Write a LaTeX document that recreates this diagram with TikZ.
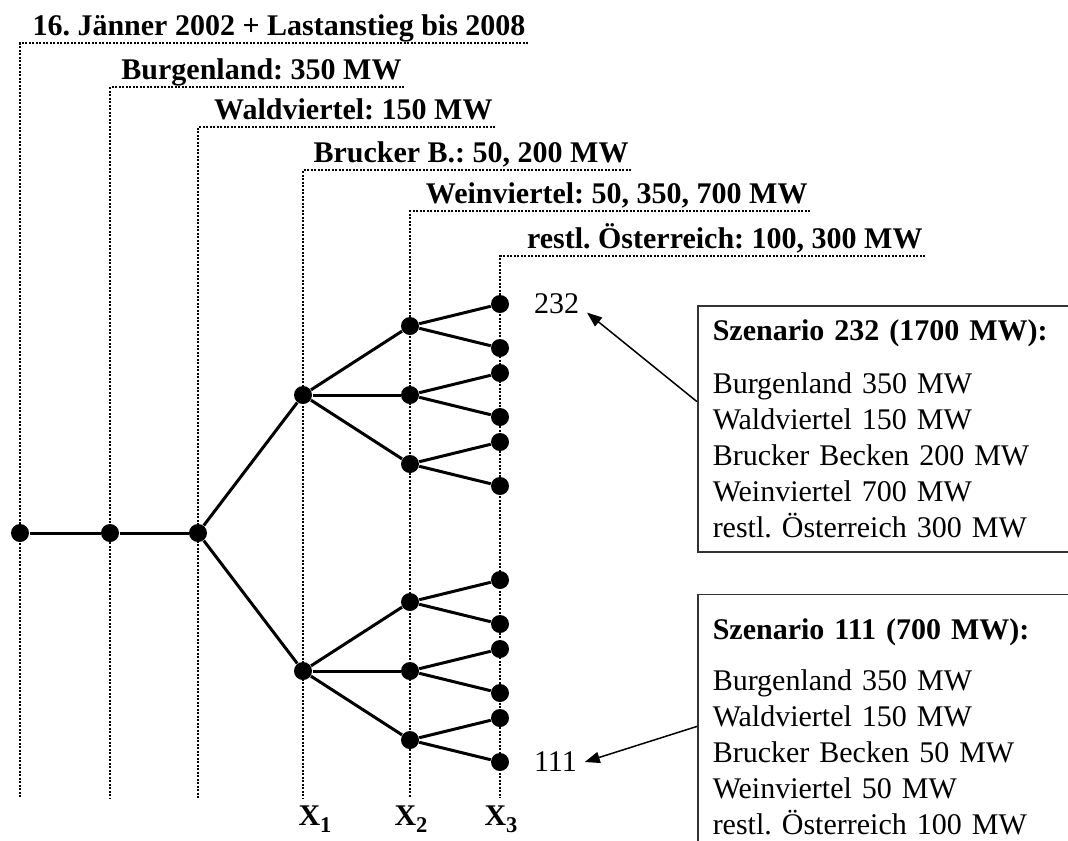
\documentclass[tikz,border=0pt]{standalone}
\usepackage{fontspec}
\setmainfont{Liberation Serif}
\usetikzlibrary{arrows.meta, positioning, calc}
\frenchspacing

\begin{document}
\begin{tikzpicture}[x=0.4pt, y=-0.4pt,
  every node/.style={font=\fontsize{12}{14.4}\selectfont},
  guide/.style={line width=0.8pt, dash pattern=on 0.8pt off 0.6pt},
  dot/.style={circle, fill=black, inner sep=0pt, minimum size=7.2pt},
  branch/.style={line width=1.2pt},
  head/.style={font=\fontsize{12}{14.4}\selectfont\bfseries, inner sep=0pt, anchor=base east},
  infobox/.style={draw=black!80, line width=0.6pt, align=left, text width=140pt,
    inner xsep=6pt, inner ysep=5.5pt, anchor=north west},
  callout/.style={line width=0.6pt, -{Triangle[length=6pt,width=4.5pt]}},
  leaflab/.style={inner sep=0pt},
  xlab/.style={font=\fontsize{12}{14.4}\selectfont\bfseries, inner sep=0pt, anchor=base}
]
\useasboundingbox (0,0) rectangle (1068,841);
\clip (0,0) rectangle (1068,841);

% stages: dotted guide, heading on top
\foreach \c/\x/\y/\e/\t in {1/20/43/528/{16. Jänner 2002 + Lastanstieg bis 2008},
    2/110/87/404/{Burgenland: 350 MW},
    3/198/127/495/{Waldviertel: 150 MW},
    4/303/170/631/{Brucker B.: 50, 200 MW},
    5/410/211/810/{Weinviertel: 50, 350, 700 MW},
    6/500/256/925/{restl. Österreich: 100, 300 MW}} {
  \draw [guide] (\e,\y) -- (\x,\y) -- (\x,798);
  \node [head] (head\c) at (\e-2,\y-8) {\t};
}

% scenario tree
\node [dot] (r0) at (20,533) {};
\node [dot] (r1) at (110,533) {};
\node [dot] (r2) at (198,533) {};
\draw [branch] (r0) -- (r1) -- (r2);
\foreach \p/\yy in {a/395, b/671} {
  \node [dot] (\p) at (303,\yy) {};
  \draw [branch] (r2) -- (\p);
  \foreach \i/\dy in {1/-69, 2/0, 3/69} {
    \node [dot] (\p\i) at (410,\yy+\dy) {};
    \draw [branch] (\p) -- (\p\i);
    \foreach \j/\ddy in {1/-22, 2/22} {
      \node [dot] (\p\i\j) at (500,\yy+\dy+\ddy) {};
      \draw [branch] (\p\i) -- (\p\i\j);
    }
  }
}

% scenario numbers
\node [leaflab, right=9.6pt of a11] (s232) {232};
\node [leaflab, right=9.6pt of b32] (s111) {111};

% scenario boxes
\node [infobox] (box232) at (697,305) {\textbf{Szenario 232 (1700 MW):}\\[7pt]
  Burgenland 350 MW\\ Waldviertel 150 MW\\ Brucker Becken 200 MW\\
  Weinviertel 700 MW\\ restl. Österreich 300 MW};
\node [infobox, inner ysep=9.5pt, below=16.4pt of box232.south west, anchor=north west] (box111)
  {\textbf{Szenario 111 (700 MW):}\\[6pt]
  Burgenland 350 MW\\ Waldviertel 150 MW\\ Brucker Becken 50 MW\\
  Weinviertel 50 MW\\ restl. Österreich 100 MW};

\draw [callout] ($(box232.north west)!0.39!(box232.south west)$) -- ([shift={(3pt,0.8pt)}]s232.south east);
\draw [callout] ($(box111.north west)!0.5!(box111.south west)$) -- ([xshift=3pt]s111.east);

% stage variables
\node [xlab] (x1) at (315,825) {X\raisebox{-3pt}{\fontsize{9}{9}\selectfont 1}};
\node [xlab] (x2) at (411,825) {X\raisebox{-3pt}{\fontsize{9}{9}\selectfont 2}};
\node [xlab] (x3) at (501,825) {X\raisebox{-3pt}{\fontsize{9}{9}\selectfont 3}};
\end{tikzpicture}
\end{document}
